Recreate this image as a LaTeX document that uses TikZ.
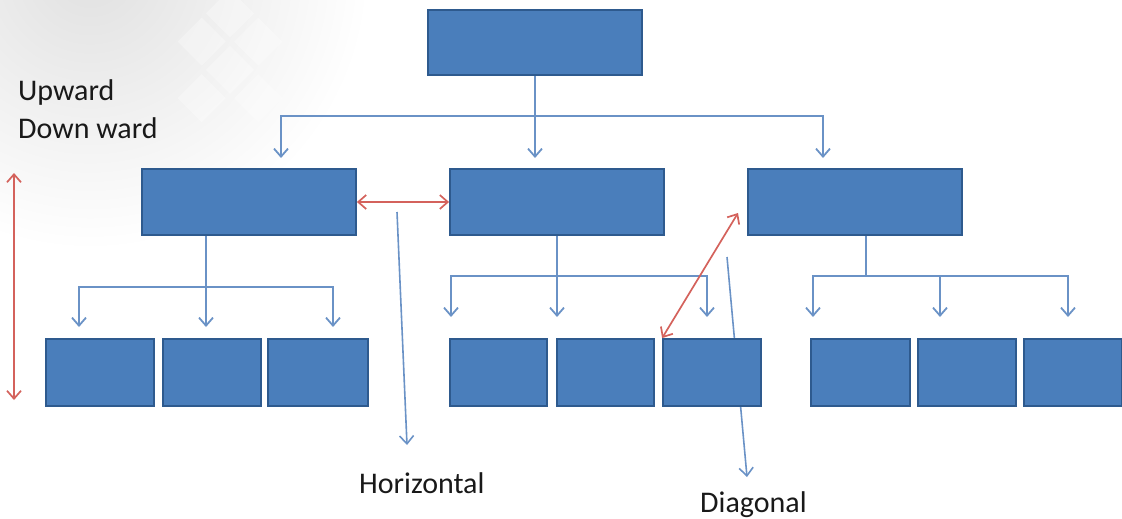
\documentclass[tikz,border=0pt]{standalone}
\usepackage{fontspec}
\setmainfont{Carlito}
\usetikzlibrary{arrows.meta}
\definecolor{boxfill}{HTML}{4A7EBB}
\definecolor{boxedge}{HTML}{2E5A8E}
\definecolor{link}{HTML}{6A92C6}
\definecolor{rel}{HTML}{D4625C}
\begin{document}
\begin{tikzpicture}[x=1pt,y=-1pt,
  unit/.style={draw=boxedge, fill=boxfill, line width=1.8pt, inner sep=0pt,
               minimum width=#1, minimum height=66pt},
  link/.style={draw=link, line width=1.8pt},
  rel/.style={draw=rel, line width=1.7pt, {Straight Barb[length=8pt,width=14pt]}-{Straight Barb[length=8pt,width=14pt]}},
  lbl/.style={font=\fontsize{30}{36}\selectfont, text=black!90, inner sep=0pt, anchor=base west}]
\useasboundingbox (0,0) rectangle (1122,519);
% soft grey backdrop in the upper left
\shade[inner color=black!12, outer color=white] (90,-30) circle (280);
\begin{scope}[rotate around={-45:(230,60)}]
  \foreach \i/\j in {0/0,1/0,0/1,1/1,2/1,1/2}
    \fill[white, opacity=0.3] (180+\i*40,10+\j*40) rectangle ++(34,34);
\end{scope}

% pointers to the labels (the diagonal one runs behind a box)
\coordinate (h0) at (397,212);
\coordinate (h1) at (407,445);
\draw[link, line width=1.6pt, -{Straight Barb[length=8pt,width=14pt]}] (h0) -- (h1);
\coordinate (g0) at (727,257);
\coordinate (g1) at (747,477);
\draw[link, line width=1.6pt, -{Straight Barb[length=8pt,width=14pt]}] (g0) -- (g1);

% boxes
\node[unit=214, minimum height=65pt] (top) at (535,42.5) {};
\node[unit=214] (L) at (249,202) {};
\node[unit=214] (M) at (557,202) {};
\node[unit=214] (R) at (855,202) {};
\foreach \n/\x/\w in {A1/100/108, A2/212/98, A3/318/100,
                      B1/498.5/97, B2/605.5/97, B3/712/98,
                      C1/860.5/99, C2/967/98, C3/1073/98}
  \node[unit=\w, minimum height=67pt] (\n) at (\x,372.5) {};

% tree connectors: top level
\coordinate (t1) at (281,158);
\coordinate (t2) at (535,158);
\coordinate (t3) at (823,158);
\draw[link, -{Straight Barb[length=8pt,width=14pt]}] (top.south) -- (t2);
\draw[link, {Straight Barb[length=8pt,width=14pt]}-{Straight Barb[length=8pt,width=14pt]}] (t1) |- (535,116) -| (t3);

% left group
\coordinate (a0) at ([xshift=-43pt]L.south);
\coordinate (a1) at (79,327);
\coordinate (a2) at (206,327);
\coordinate (a3) at (333,327);
\draw[link, -{Straight Barb[length=8pt,width=14pt]}] (a0) -- (a2);
\draw[link, {Straight Barb[length=8pt,width=14pt]}-{Straight Barb[length=8pt,width=14pt]}] (a1) |- (206,287) -| (a3);

% middle group
\coordinate (b1) at (451,317);
\coordinate (b2) at (557,317);
\coordinate (b3) at (707,317);
\draw[link, -{Straight Barb[length=8pt,width=14pt]}] (M.south) -- (b2);
\draw[link, {Straight Barb[length=8pt,width=14pt]}-{Straight Barb[length=8pt,width=14pt]}] (b1) |- (557,276) -| (b3);

% right group
\coordinate (c0) at ([xshift=11pt]R.south);
\coordinate (c1) at (813,317);
\coordinate (c2) at (940,317);
\coordinate (c3) at (1068,317);
\draw[link] (c0) -- (866,276);
\draw[link, {Straight Barb[length=8pt,width=14pt]}-{Straight Barb[length=8pt,width=14pt]}] (c1) |- (866,276) -| (c3);
\draw[link, -{Straight Barb[length=8pt,width=14pt]}] (c2 |- 0,276) -- (c2);

% communication directions
\draw[rel] (L.east) -- (M.west);
\coordinate (v1) at (14,173);
\coordinate (v2) at (14,400);
\draw[rel] (v1) -- (v2);
\coordinate (d1) at (738,213);
\draw[rel] (B3.north west) -- (d1);

% labels
\node[lbl] (up) at (18,100) {Upward};
\node[lbl] (down) at (18,138) {Down ward};
\node[lbl] (hor) at (359,493) {Horizontal};
\node[lbl] (dia) at (700,512) {Diagonal};
\end{tikzpicture}
\end{document}
